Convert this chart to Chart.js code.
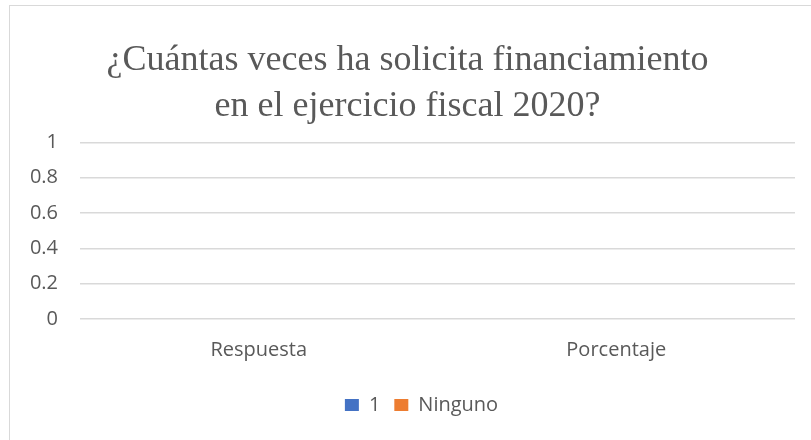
<!DOCTYPE html>
<html>
<head>
<meta charset="utf-8">
<script src="https://cdn.jsdelivr.net/npm/chart.js@4"></script>
<style>
  html, body { margin: 0; padding: 0; background: #fff; overflow: hidden; }
  #frame { position: absolute; left: 9px; top: 5px; width: 820px; height: 450px; border: 1.5px solid #d9d9d9; box-sizing: border-box; }
  #wrap { position: absolute; left: 0; top: 0; width: 811px; height: 440px; }
</style>
</head>
<body>
<div id="frame"></div>
<div id="wrap"><canvas id="chart" width="811" height="440"></canvas></div>
<script>
const categories = ["Respuesta", "Porcentaje"];
const serieUno = [0, 0];
const serieNinguno = [0, 0];
const titleLines = ["¿Cuántas veces ha solicita financiamiento", "en el ejercicio fiscal 2020?"];
const yTicks = [0, 0.2, 0.4, 0.6, 0.8, 1];

const gris = "#595959";
const sans = "Open Sans";

// Excel puts the legend a bit right of centre
const legendShift = {
  id: "legendShift",
  afterLayout(chart) {
    chart.legend.left += 14;
    chart.legend.right += 14;
  }
};

const chart = new Chart(document.getElementById("chart"), {
  type: "bar",
  data: {
    labels: categories,
    datasets: [
      { label: "1", data: serieUno, backgroundColor: "#4472C4" },
      { label: "Ninguno", data: serieNinguno, backgroundColor: "#ED7D31" }
    ]
  },
  options: {
    responsive: false,
    animation: false,
    layout: { padding: { left: 20, right: 16, top: 14, bottom: 15 } },
    plugins: {
      title: {
        display: true,
        text: titleLines,
        color: gris,
        font: { family: "Liberation Serif", size: 36, lineHeight: 1.27, weight: "normal" },
        padding: { top: 24, bottom: 13 }
      },
      legend: {
        position: "bottom",
        labels: {
          color: gris,
          font: { family: sans, size: 20 },
          boxWidth: 14,
          boxHeight: 12,
          padding: 14
        }
      },
      tooltip: { enabled: false }
    },
    scales: {
      x: {
        grid: { display: false, drawTicks: false },
        border: { display: false },
        ticks: { color: gris, font: { family: sans, size: 20 }, padding: 19 }
      },
      y: {
        min: 0,
        max: 1,
        afterBuildTicks: axis => { axis.ticks = yTicks.map(v => ({ value: v })); },
        afterFit: axis => { axis.width = 60; },
        ticks: {
          color: gris,
          font: { family: sans, size: 20 },
          padding: 22,
          callback: v => String(v)
        },
        grid: { color: "#d9d9d9", lineWidth: 1.5, drawTicks: false },
        border: { display: false }
      }
    }
  },
  plugins: [legendShift]
});
</script>
</body>
</html>
